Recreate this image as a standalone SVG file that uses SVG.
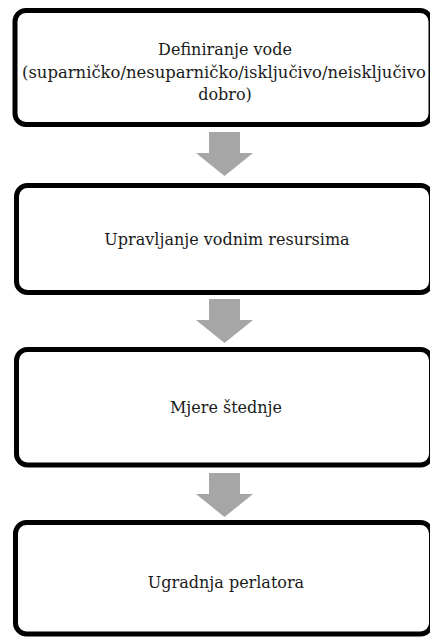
<svg xmlns="http://www.w3.org/2000/svg" width="430" height="637" viewBox="0 0 430 637">
<style>
.box{fill:#fff;stroke:#000;stroke-width:5}
.lbl{font-family:"DejaVu Serif","Liberation Serif",serif;font-size:16px;fill:#1a1a1a;text-anchor:middle}
.arr{fill:#a6a6a6}
</style>
<rect width="430" height="637" fill="#fff"/>
<g id="connectors">
<polygon class="arr" points="209,132 240,132 240,153 253,153 224.5,176 196,153 209,153"/>
<polygon class="arr" points="209,299 240,299 240,320 253,320 224.5,343 196,320 209,320"/>
<polygon class="arr" points="209,473 240,473 240,494 253,494 224.5,517 196,494 209,494"/>
</g>
<g id="node1">
<rect class="box" x="15" y="10.5" width="416" height="114" rx="11"/>
<text class="lbl" x="225" y="55">Definiranje vode</text>
<text class="lbl" x="224" y="78" textLength="404" lengthAdjust="spacingAndGlyphs">(suparničko/nesuparničko/isključivo/neisključivo</text>
<text class="lbl" x="225" y="100">dobro)</text>
</g>
<g id="node2">
<rect class="box" x="16.5" y="185.5" width="415" height="107" rx="11"/>
<text class="lbl" x="227" y="245">Upravljanje vodnim resursima</text>
</g>
<g id="node3">
<rect class="box" x="16.5" y="349.5" width="415" height="115.5" rx="11"/>
<text class="lbl" x="226" y="413">Mjere štednje</text>
</g>
<g id="node4">
<rect class="box" x="15.5" y="522.5" width="416" height="111.5" rx="11"/>
<text class="lbl" x="226" y="588">Ugradnja perlatora</text>
</g>
</svg>
